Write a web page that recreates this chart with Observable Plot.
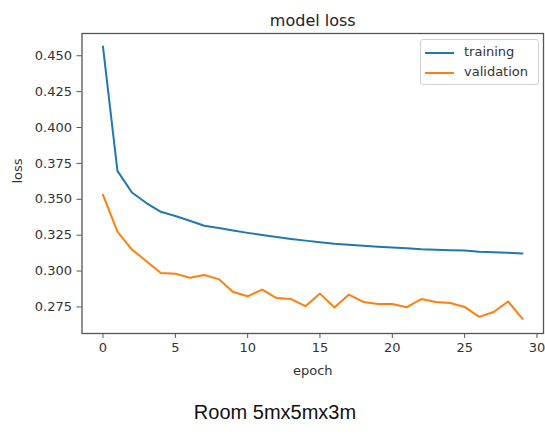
<!DOCTYPE html>
<html>
<head>
<meta charset="utf-8">
<script src="https://cdn.jsdelivr.net/npm/d3@7"></script>
<script src="https://cdn.jsdelivr.net/npm/@observablehq/plot@0.6"></script>
<style>
  html, body { margin: 0; padding: 0; background: #fff; }
  #wrap { position: relative; width: 545px; height: 435px; }
  #legend {
    position: absolute; left: 420px; top: 39px; width: 117px; height: 44px;
    border: 1px solid #d0d0d0; border-radius: 3px; background: rgba(255,255,255,0.8);
    font-family: "DejaVu Sans", sans-serif; font-size: 13px; color: #333;
  }
  .item { position: absolute; left: 0; height: 20px; width: 117px; }
  .swatch { position: absolute; left: 4px; top: 9px; width: 29px; height: 2px; }
  .lbl { position: absolute; left: 43px; top: 1px; line-height: 16px; }
  #caption {
    position: absolute; left: 0; top: 398px; width: 550px; text-align: center;
    font-family: "Liberation Sans", Arial, sans-serif; font-size: 20px; color: #111;
    line-height: 28px;
  }
</style>
</head>
<body>
<div id="wrap">
  <div id="chart"></div>
  <div id="legend"></div>
  <div id="caption"></div>
</div>
<script>
const epochs = d3.range(0, 30);
const training = [0.4564, 0.3698, 0.3547, 0.3474, 0.3413, 0.3384, 0.3351, 0.3316, 0.3300, 0.3282,
                  0.3266, 0.3252, 0.3238, 0.3224, 0.3212, 0.3201, 0.3190, 0.3183, 0.3176, 0.3169,
                  0.3164, 0.3159, 0.3152, 0.3148, 0.3145, 0.3143, 0.3134, 0.3131, 0.3127, 0.3122];
const validation = [0.3531, 0.3275, 0.3150, 0.3069, 0.2986, 0.2982, 0.2954, 0.2972, 0.2944, 0.2854,
                    0.2824, 0.2871, 0.2812, 0.2805, 0.2755, 0.2843, 0.2746, 0.2836, 0.2785, 0.2771,
                    0.2771, 0.2748, 0.2805, 0.2785, 0.2778, 0.2750, 0.2681, 0.2715, 0.2788, 0.2667];
const seriesNames = ["training", "validation"];
const seriesColors = ["#1f77b4", "#ff7f0e"];
const xTicks = [0, 5, 10, 15, 20, 25, 30];
const yTicks = [0.275, 0.300, 0.325, 0.350, 0.375, 0.400, 0.425, 0.450];
const titleText = "model loss";
const xLabel = "epoch";
const yLabel = "loss";
const captionText = "Room 5mx5mx3m";

const rows = [];
epochs.forEach((e, i) => {
  rows.push({epoch: e, loss: training[i], series: seriesNames[0]});
  rows.push({epoch: e, loss: validation[i], series: seriesNames[1]});
});

const axisColor = "#555";
const chart = Plot.plot({
  width: 545,
  height: 390,
  marginTop: 33,
  marginLeft: 81.5,
  marginRight: 2,
  marginBottom: 57,
  style: {fontFamily: "DejaVu Sans, sans-serif", fontSize: "13px", color: "#333", background: "#fff"},
  x: {domain: [-1.45, 30.45]},
  y: {domain: [0.2565, 0.4655]},
  color: {domain: seriesNames, range: seriesColors},
  marks: [
    Plot.frame({stroke: axisColor, strokeWidth: 1.3}),
    Plot.axisX({ticks: xTicks, tickSize: 5, tickPadding: 4, stroke: axisColor, label: null, tickFormat: d => String(d)}),
    Plot.axisY({ticks: yTicks, tickSize: 5, tickPadding: 5, stroke: axisColor, label: null, tickFormat: d3.format(".3f")}),
    Plot.line(rows, {x: "epoch", y: "loss", stroke: "series", strokeWidth: 2}),
    Plot.text([titleText], {frameAnchor: "top", lineAnchor: "middle", dy: -13, fontSize: 16, fill: "#222"}),
    Plot.text([xLabel], {frameAnchor: "bottom", lineAnchor: "middle", dy: 37, fill: "#333"}),
    Plot.text([yLabel], {frameAnchor: "left", lineAnchor: "middle", dx: -64.5, rotate: -90, fill: "#333"})
  ]
});
document.getElementById("chart").appendChild(chart);

const legend = document.getElementById("legend");
seriesNames.forEach((name, i) => {
  const item = document.createElement("div");
  item.className = "item";
  item.style.top = (3 + i * 20) + "px";
  const sw = document.createElement("div");
  sw.className = "swatch";
  sw.style.background = seriesColors[i];
  const lb = document.createElement("div");
  lb.className = "lbl";
  lb.textContent = name;
  item.appendChild(sw);
  item.appendChild(lb);
  legend.appendChild(item);
});
document.getElementById("caption").textContent = captionText;
</script>
</body>
</html>
